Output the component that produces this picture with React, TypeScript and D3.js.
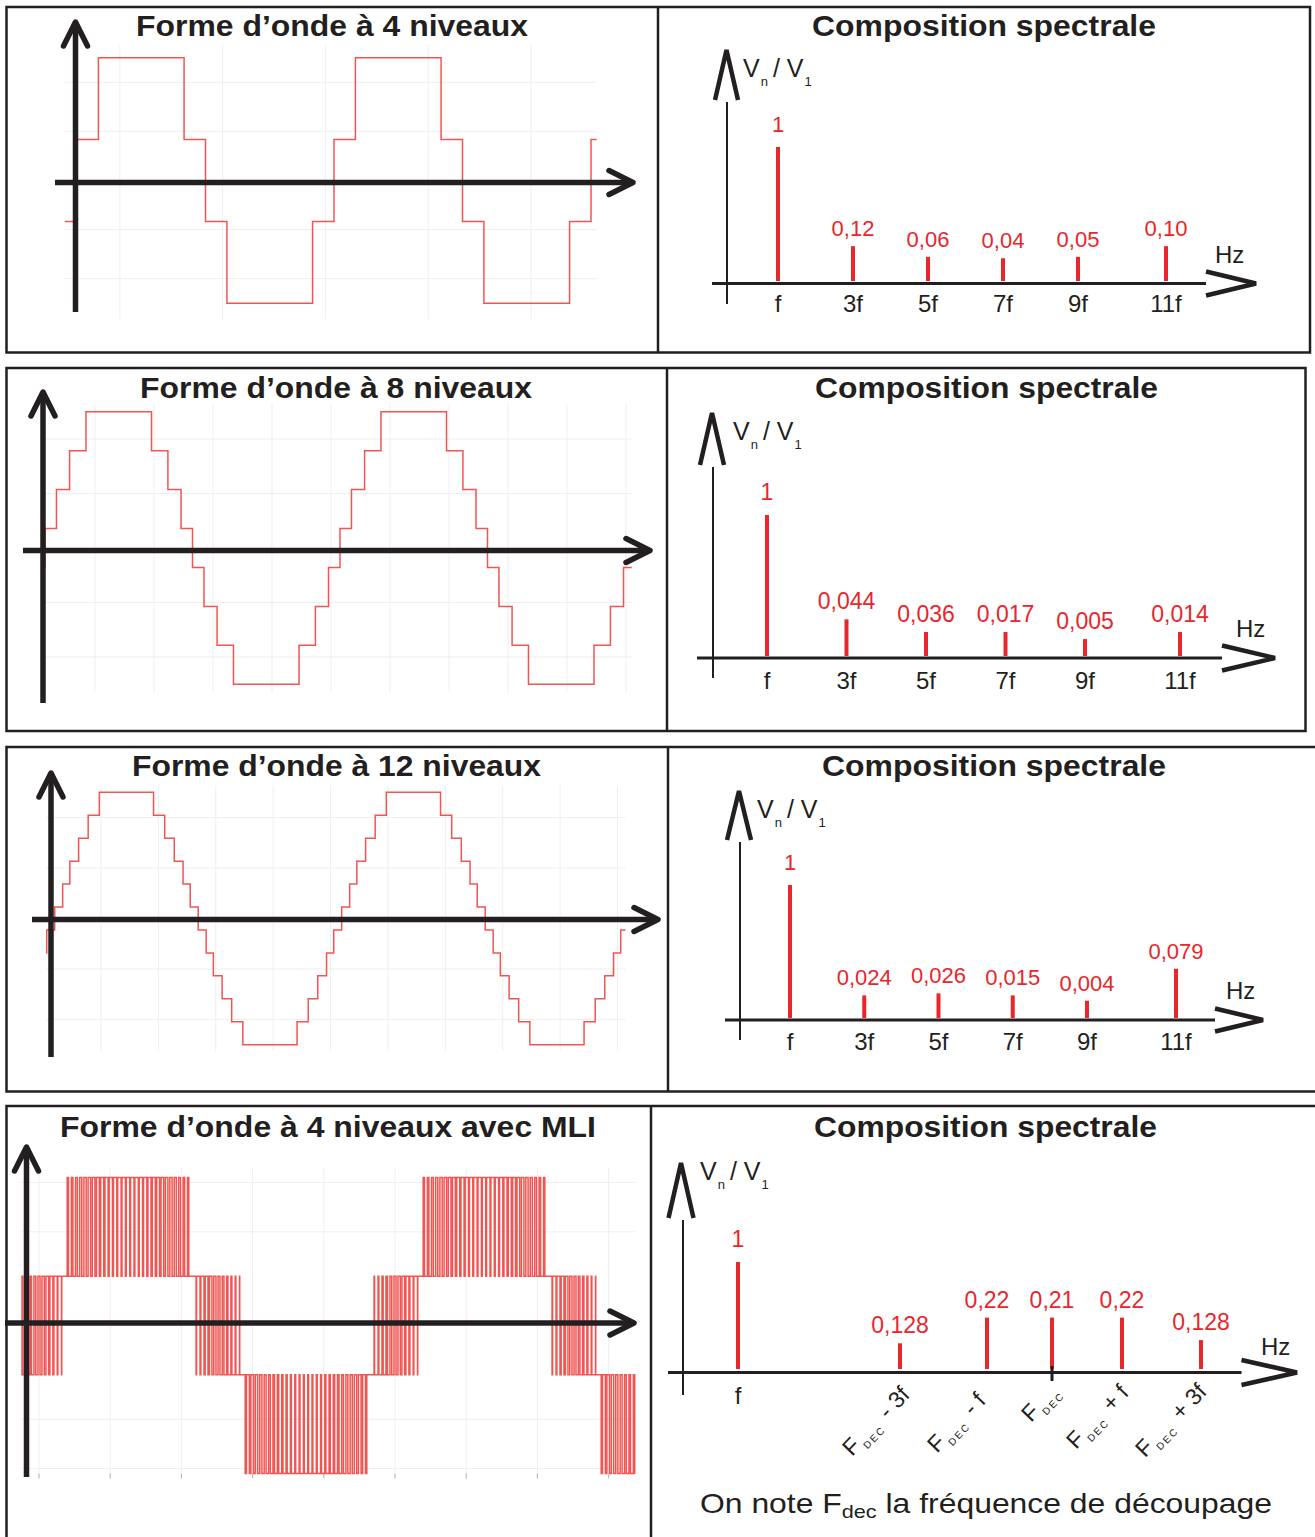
import React from "react";
import * as d3 from "d3";

// ---------------- Waveforms (phase in degrees, level in units) ----------------
const wave4Levels = [1, 3, 1, -1, -3, -1];
const wave4Durations = [30, 120, 30, 30, 120, 30];
const wave8Levels = [1, 3, 5, 7, 5, 3, 1, -1, -3, -5, -7, -5, -3, -1];
const wave8Durations = [14, 16, 20, 80, 20, 16, 14, 14, 16, 20, 80, 20, 16, 14];
const wave12Levels = [1, 3, 5, 7, 9, 11, 9, 7, 5, 3, 1, -1, -3, -5, -7, -9, -11, -9, -7, -5, -3, -1];
const wave12Durations = [10, 9, 11, 12, 14, 68, 14, 12, 11, 9, 10, 10, 9, 11, 12, 14, 68, 14, 12, 11, 9, 10];

// PWM (MLI) regions over one period
const mliRegionStart = [-23, 27, 157, 207];
const mliRegionDuration = [46, 126, 46, 126];
const mliRegionBase = [-1, 1, 1, -1];
const mliRegionOuter = [1, 3, -1, -3];
const mliRegionAfter = [1, 1, -1, -1];
const mliDutyCrossing = [0.12, 0.2, 0.28, 0.36, 0.44, 0.5, 0.56, 0.64, 0.72, 0.8, 0.88];
const mliDutyPlateau = [0.3, 0.36, 0.42, 0.48, 0.53, 0.58, 0.62, 0.66, 0.7, 0.73, 0.76, 0.78, 0.8, 0.8, 0.8, 0.8, 0.8, 0.78, 0.76, 0.73, 0.7, 0.66, 0.62, 0.58, 0.53, 0.48, 0.42, 0.36, 0.3];

// ---------------- Spectra ----------------
const harmonicOrders = [1, 3, 5, 7, 9, 11];
const harmonicNames = ["f", "3f", "5f", "7f", "9f", "11f"];
const spectrum4Values = ["1", "0,12", "0,06", "0,04", "0,05", "0,10"];
const spectrum4Drawn = [1, 0.26, 0.18, 0.17, 0.18, 0.26];
const spectrum8Values = ["1", "0,044", "0,036", "0,017", "0,005", "0,014"];
const spectrum8Drawn = [1, 0.26, 0.17, 0.17, 0.12, 0.17];
const spectrum12Values = ["1", "0,024", "0,026", "0,015", "0,004", "0,079"];
const spectrum12Drawn = [1, 0.17, 0.185, 0.17, 0.13, 0.37];
const mliSpectrumKeys = ["f", "F-3f", "F-f", "F", "F+f", "F+3f"];
const mliSpectrumValues = ["1", "0,128", "0,22", "0,21", "0,22", "0,128"];
const mliSpectrumDrawn = [1, 0.24, 0.48, 0.48, 0.48, 0.27];
const mliSpectrumSuffix = ["", " - 3f", " - f", "", " + f", " + 3f"];

const FONT = "'Liberation Sans', Arial, Helvetica, sans-serif";
const INK = "#231f20";
const RED = "#e8262b";
const WAVE_RED = "#f0433f";

type Pt = [number, number];

function buildSteps(levels: number[], durations: number[], start: number, end: number): Pt[] {
  const period = d3.sum(durations);
  const pts: Pt[] = [];
  for (let p = Math.floor(start / period); p * period < end; p++) {
    let t = p * period;
    for (let i = 0; i < levels.length; i++) {
      const t0 = t, t1 = t + durations[i];
      if (t1 > start && t0 < end) pts.push([Math.max(t0, start), levels[i]]);
      t = t1;
    }
  }
  pts.push([end, pts[pts.length - 1][1]]);
  return pts;
}

function buildMli(start: number, end: number): Pt[] {
  const ev: Pt[] = [];
  for (let p = -1; p <= 2; p++) {
    mliRegionStart.forEach((s, i) => {
      const t0 = p * 360 + s;
      const duties = i % 2 === 0 ? mliDutyCrossing : mliDutyPlateau;
      const T = mliRegionDuration[i] / duties.length;
      duties.forEach((d, k) => {
        const a = t0 + k * T;
        ev.push([a, mliRegionBase[i]]);
        ev.push([a + (T * (1 - d)) / 2, mliRegionOuter[i]]);
        ev.push([a + (T * (1 + d)) / 2, mliRegionBase[i]]);
      });
      ev.push([t0 + mliRegionDuration[i], mliRegionAfter[i]]);
    });
  }
  ev.sort((a, b) => a[0] - b[0]);
  let startLevel = ev[0][1];
  for (const e of ev) if (e[0] <= start) startLevel = e[1];
  const pts: Pt[] = [[start, startLevel], ...ev.filter((e) => e[0] > start && e[0] < end)];
  pts.push([end, pts[pts.length - 1][1]]);
  return pts;
}

function Title({ text, x, y, len }: { text: string; x: number; y: number; len: number }) {
  return (
    <text x={x} y={y} textAnchor="middle" fontSize={30} fontWeight="bold" fill={INK}
      textLength={len} lengthAdjust="spacingAndGlyphs">{text}</text>
  );
}

type WaveProps = {
  title: string; titleX: number; titleY: number; titleLen: number;
  pts: Pt[]; x0: number; pxPerPeriod: number; zeroY: number; unitPx: number;
  yAxisX: number; yAxisTop: number; yAxisBottom: number;
  xAxisY: number; xAxisLeft: number; xAxisRight: number;
  gridX: number[]; gridY: number[]; gridT0: number; gridT1: number; gridL0: number; gridL1: number;
  ticks?: number[]; tickLevel?: number;
};

function WavePanel(p: WaveProps) {
  const x = d3.scaleLinear().domain([0, 360]).range([p.x0, p.x0 + p.pxPerPeriod]);
  const y = d3.scaleLinear().domain([0, 1]).range([p.zeroY, p.zeroY - p.unitPx]);
  const line = d3.line<Pt>().x((d) => x(d[0])).y((d) => y(d[1])).curve(d3.curveStepAfter);
  return (
    <g>
      <Title text={p.title} x={p.titleX} y={p.titleY} len={p.titleLen} />
      <g stroke="#efefef" strokeWidth={1}>
        {p.gridX.map((g, i) => (
          <line key={"gx" + i} x1={x(g)} x2={x(g)} y1={y(p.gridL0)} y2={y(p.gridL1)} />
        ))}
        {p.gridY.map((g, i) => (
          <line key={"gy" + i} x1={x(p.gridT0)} x2={x(p.gridT1)} y1={y(g)} y2={y(g)} />
        ))}
      </g>
      {p.ticks && (
        <g stroke="#bdbdbd" strokeWidth={1.2}>
          {p.ticks.map((t, i) => (
            <line key={"t" + i} x1={x(t)} x2={x(t)} y1={y(p.tickLevel!)} y2={y(p.tickLevel!) + 5} />
          ))}
        </g>
      )}
      <path d={line(p.pts) || ""} fill="none" stroke={WAVE_RED} strokeWidth={1.5} strokeOpacity={0.9} />
      <g stroke={INK} strokeWidth={5.5} fill="none">
        <line x1={p.yAxisX} x2={p.yAxisX} y1={p.yAxisTop + 2} y2={p.yAxisBottom} />
        <line x1={p.xAxisLeft} x2={p.xAxisRight - 2} y1={p.xAxisY} y2={p.xAxisY} />
        <path strokeLinecap="round" strokeLinejoin="round"
          d={`M${p.yAxisX - 12},${p.yAxisTop + 24} L${p.yAxisX},${p.yAxisTop} L${p.yAxisX + 12},${p.yAxisTop + 24}`} />
        <path strokeLinecap="round" strokeLinejoin="round"
          d={`M${p.xAxisRight - 24},${p.xAxisY - 12} L${p.xAxisRight},${p.xAxisY} L${p.xAxisRight - 24},${p.xAxisY + 12}`} />
      </g>
    </g>
  );
}

function VnLabel({ x, y }: { x: number; y: number }) {
  return (
    <text x={x} y={y} fontSize={25} fill={INK}>
      V<tspan fontSize={13} dy={9} dx={1}>n</tspan>
      <tspan fontSize={25} dy={-9} dx={5}>/ V</tspan>
      <tspan fontSize={13} dy={9} dx={1}>1</tspan>
    </text>
  );
}

type SpecProps = {
  title: string; titleX: number; titleY: number; titleLen: number;
  xPos: (i: number) => number; drawn: number[]; values: string[]; names?: string[];
  baseY: number; topY: number; labelSize: number;
  apexX: number; apexY: number; footY: number; apexHW: number;
  yLineX: number; yLineTop: number; yLineBottom: number;
  axisY: number; axisLeft: number; axisRight: number; arrowTip: number; arrowHH: number;
  hzX: number; hzY: number; vnX: number; vnY: number; tickY: number;
};

function SpectrumPanel(p: SpecProps) {
  const y = d3.scaleLinear().domain([0, 1]).range([p.baseY, p.topY]);
  return (
    <g>
      <Title text={p.title} x={p.titleX} y={p.titleY} len={p.titleLen} />
      <path d={`M${p.apexX - p.apexHW},${p.footY} L${p.apexX},${p.apexY} L${p.apexX + p.apexHW},${p.footY}`}
        fill="none" stroke={INK} strokeWidth={4.5} strokeLinejoin="miter" />
      <line x1={p.yLineX} x2={p.yLineX} y1={p.yLineTop} y2={p.yLineBottom} stroke={INK} strokeWidth={2} />
      <line x1={p.axisLeft} x2={p.axisRight} y1={p.axisY} y2={p.axisY} stroke={INK} strokeWidth={3} />
      <path d={`M${p.axisRight},${p.axisY - p.arrowHH} L${p.arrowTip},${p.axisY} L${p.axisRight},${p.axisY + p.arrowHH}`}
        fill="none" stroke={INK} strokeWidth={4.5} />
      <VnLabel x={p.vnX} y={p.vnY} />
      <text x={p.hzX} y={p.hzY} fontSize={24} fill={INK}>Hz</text>
      {p.drawn.map((v, i) => (
        <g key={i}>
          <line x1={p.xPos(i)} x2={p.xPos(i)} y1={y(0)} y2={y(v)} stroke={RED} strokeWidth={4} />
          <text x={p.xPos(i)} y={y(v) - (v >= 1 ? 15 : 10)} textAnchor="middle" fontSize={p.labelSize} fill={RED}>{p.values[i]}</text>
          {p.names && (
            <text x={p.xPos(i)} y={p.tickY} textAnchor="middle" fontSize={24} fill={INK}>{p.names[i]}</text>
          )}
        </g>
      ))}
    </g>
  );
}

export default function App() {
  const pts4 = buildSteps(wave4Levels, wave4Durations, -17, 728);
  const pts8 = buildSteps(wave8Levels, wave8Durations, -3, 716);
  const pts12 = buildSteps(wave12Levels, wave12Durations, -11, 716);
  const ptsMli = buildMli(-18, 603);

  const sx4 = d3.scaleLinear().domain([1, 9, 11]).range([778, 1078, 1166]);
  const sx8 = d3.scaleLinear().domain([1, 9, 11]).range([767, 1085, 1180]);
  const sx12 = d3.scaleLinear().domain([1, 9, 11]).range([790, 1087, 1176]);
  const sxMli = d3.scaleOrdinal<string, number>().domain(mliSpectrumKeys).range([738, 900, 987, 1052, 1122, 1201]);

  const mliLabelAnchor: Pt[] = [[0, 0], [911, 1396], [987, 1402], [1061, 1392], [1130, 1394], [1208, 1393]];

  return (
    <svg width={1315} height={1537} style={{ position: "absolute", left: 0, top: 0 }} fontFamily={FONT}>
      <rect width={1315} height={1537} fill="#fff" />
      {/* frames */}
      <g stroke={INK} strokeWidth={2.5} fill="none">
        <rect x={6.5} y={7} width={1303.5} height={345.5} />
        <line x1={658} x2={658} y1={7} y2={352.5} />
        <rect x={6.5} y={368} width={1299} height={363} />
        <line x1={667} x2={667} y1={368} y2={731} />
        <path d="M1316,747 H6.5 V1091.5 H1316" />
        <line x1={668} x2={668} y1={747} y2={1091.5} />
        <path d="M1316,1106 H6.5 V1540" />
        <line x1={651} x2={651} y1={1106} y2={1540} />
      </g>

      <WavePanel title="Forme d’onde à 4 niveaux" titleX={332} titleY={36} titleLen={392}
        pts={pts4} x0={77} pxPerPeriod={257} zeroY={180.5} unitPx={40.9}
        yAxisX={75.5} yAxisTop={22} yAxisBottom={312} xAxisY={182.5} xAxisLeft={55} xAxisRight={633}
        gridX={d3.range(60, 700, 144)} gridY={[-2.4, -1.2, 1.2, 2.4]} gridT0={-17} gridT1={728} gridL0={3.3} gridL1={-3.4} />

      <WavePanel title="Forme d’onde à 8 niveaux" titleX={336} titleY={398} titleLen={392}
        pts={pts8} x0={45} pxPerPeriod={295} zeroY={548} unitPx={19.46}
        yAxisX={43} yAxisTop={392} yAxisBottom={703} xAxisY={550.5} xAxisLeft={23} xAxisRight={650}
        gridX={d3.range(61, 720, 72)} gridY={[-5.6, -2.8, 2.8, 5.6]} gridT0={-3} gridT1={716} gridL0={7.4} gridL1={-7.4} />

      <WavePanel title="Forme d’onde à 12 niveaux" titleX={336.5} titleY={776} titleLen={409}
        pts={pts12} x0={54.7} pxPerPeriod={287} zeroY={918.5} unitPx={11.47}
        yAxisX={51} yAxisTop={773} yAxisBottom={1057} xAxisY={919.5} xAxisLeft={32} xAxisRight={658}
        gridX={d3.range(58, 720, 72)} gridY={[-8.8, -4.4, 4.4, 8.8]} gridT0={-11} gridT1={716} gridL0={11.6} gridL1={-11.5} />

      <WavePanel title="Forme d’onde à 4 niveaux avec MLI" titleX={328} titleY={1137} titleLen={536}
        pts={ptsMli} x0={39} pxPerPeriod={356} zeroY={1325.5} unitPx={49.3}
        yAxisX={26.5} yAxisTop={1147} yAxisBottom={1477} xAxisY={1323} xAxisLeft={5} xAxisRight={634}
        gridX={d3.range(0, 604, 72)} gridY={[-2.9, -1.9, 1.9, 2.9]} gridT0={-18} gridT1={603} gridL0={3.2} gridL1={-3.0}
        ticks={d3.range(0, 604, 72)} tickLevel={-3} />

      <SpectrumPanel title="Composition spectrale" titleX={984} titleY={36} titleLen={344}
        xPos={(i) => sx4(harmonicOrders[i])} drawn={spectrum4Drawn} values={spectrum4Values} names={harmonicNames}
        baseY={281} topY={147} labelSize={22}
        apexX={726.5} apexY={50} footY={100} apexHW={11.5}
        yLineX={727} yLineTop={102} yLineBottom={304}
        axisY={283.5} axisLeft={712} axisRight={1206} arrowTip={1256} arrowHH={12}
        hzX={1215} hzY={263} vnX={743} vnY={77} tickY={312} />

      <SpectrumPanel title="Composition spectrale" titleX={986.5} titleY={398} titleLen={343}
        xPos={(i) => sx8(harmonicOrders[i])} drawn={spectrum8Drawn} values={spectrum8Values} names={harmonicNames}
        baseY={656} topY={515} labelSize={23}
        apexX={712} apexY={413} footY={465} apexHW={12}
        yLineX={713} yLineTop={467} yLineBottom={678}
        axisY={658} axisLeft={697} axisRight={1222} arrowTip={1275} arrowHH={12.5}
        hzX={1236} hzY={637} vnX={733} vnY={440} tickY={689} />

      <SpectrumPanel title="Composition spectrale" titleX={994} titleY={776} titleLen={344}
        xPos={(i) => sx12(harmonicOrders[i])} drawn={spectrum12Drawn} values={spectrum12Values} names={harmonicNames}
        baseY={1018} topY={885} labelSize={22}
        apexX={739} apexY={791} footY={840} apexHW={12}
        yLineX={740} yLineTop={842} yLineBottom={1040}
        axisY={1020} axisLeft={725} axisRight={1215} arrowTip={1263} arrowHH={11.5}
        hzX={1226} hzY={999} vnX={757} vnY={818} tickY={1050} />

      <SpectrumPanel title="Composition spectrale" titleX={985.5} titleY={1137} titleLen={343}
        xPos={(i) => sxMli(mliSpectrumKeys[i])} drawn={mliSpectrumDrawn} values={mliSpectrumValues}
        baseY={1369} topY={1262} labelSize={23}
        apexX={681} apexY={1163} footY={1218} apexHW={12.5}
        yLineX={683} yLineTop={1220} yLineBottom={1395}
        axisY={1372.5} axisLeft={668} axisRight={1241.5} arrowTip={1297} arrowHH={12.5}
        hzX={1261} hzY={1355} vnX={700} vnY={1180} tickY={0} />

      {/* F_DEC tick on the axis */}
      <line x1={sxMli("F")} x2={sxMli("F")} y1={1366} y2={1381} stroke={INK} strokeWidth={3} />
      {/* fundamental tick label */}
      <text x={sxMli("f")} y={1404} textAnchor="middle" fontSize={24} fill={INK}>f</text>
      {/* rotated sideband labels */}
      {mliSpectrumKeys.map((k, i) =>
        i === 0 ? null : (
          <text key={k} transform={`translate(${mliLabelAnchor[i][0]},${mliLabelAnchor[i][1]}) rotate(-46)`}
            textAnchor="end" fontSize={23} fill={INK}>
            F<tspan fontSize={10} dy={6} dx={2} letterSpacing={2}>DEC</tspan>
            <tspan dy={-6} dx={2}>{mliSpectrumSuffix[i]}</tspan>
          </text>
        )
      )}

      <text x={986} y={1513} textAnchor="middle" fontSize={28} fill={INK} textLength={572} lengthAdjust="spacingAndGlyphs">
        On note F<tspan fontSize={19} dy={5}>dec</tspan>
        <tspan dy={-5}> la fréquence de découpage</tspan>
      </text>
    </svg>
  );
}
